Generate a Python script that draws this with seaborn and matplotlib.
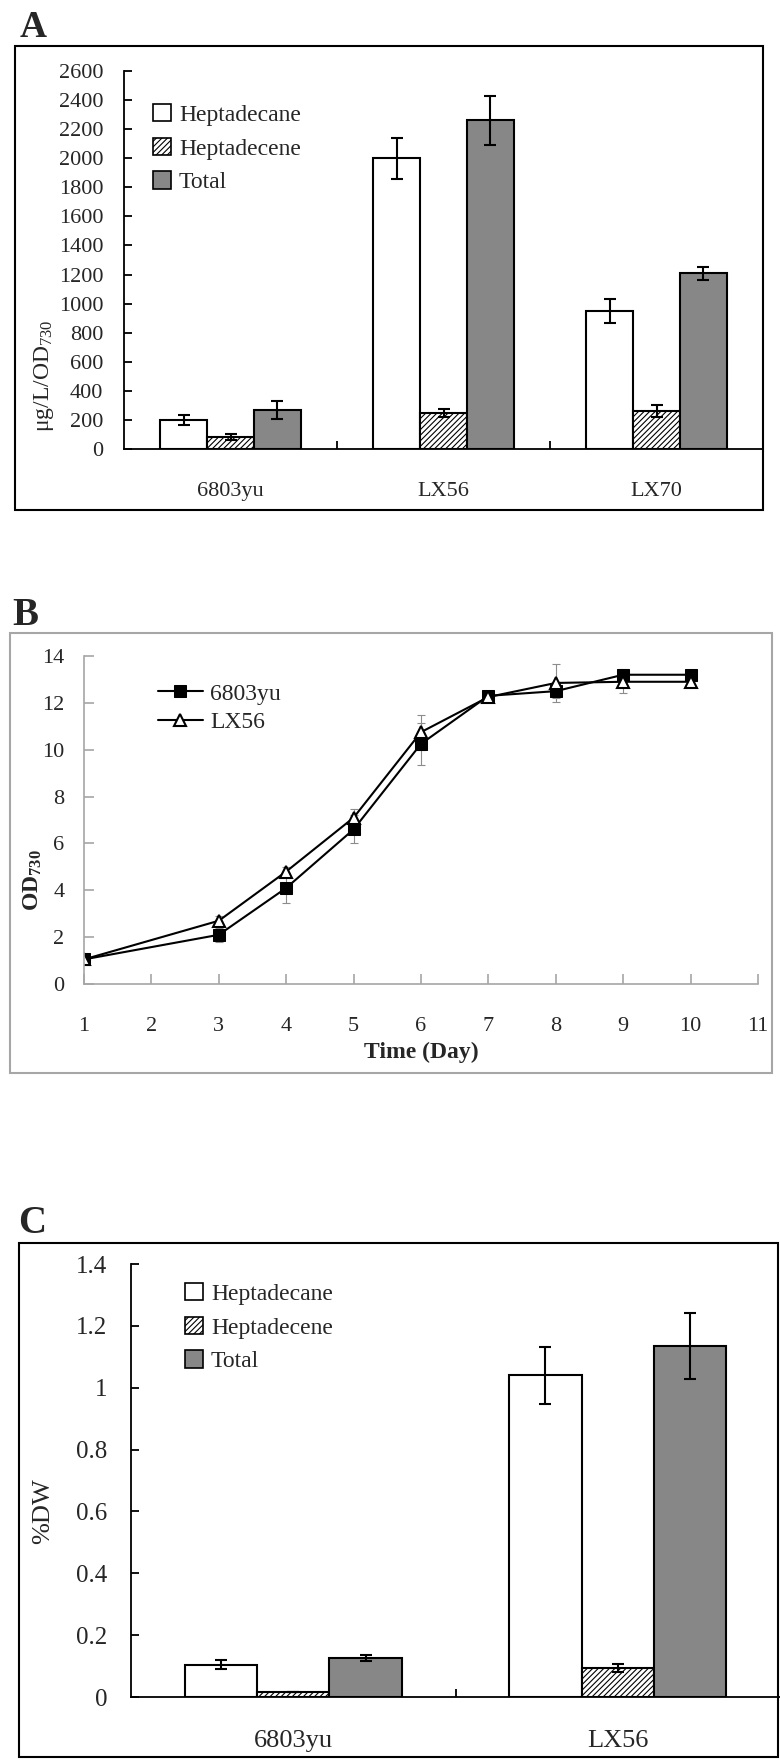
import numpy as np
import pandas as pd
import matplotlib
matplotlib.use("Agg")
import matplotlib.pyplot as plt
import matplotlib.patches as mpatches
import seaborn as sns

# ---- data ----
compounds = ["Heptadecane", "Heptadecene", "Total"]

strains_a = ["6803yu", "LX56", "LX70"]
heptadecane_a = [200, 2000, 950]
heptadecane_a_err = [35, 140, 85]
heptadecene_a = [80, 250, 260]
heptadecene_a_err = [20, 28, 40]
total_a = [270, 2260, 1210]
total_a_err = [62, 168, 45]

days = [1, 3, 4, 5, 6, 7, 8, 9, 10]
od_6803yu = [1.05, 2.1, 4.1, 6.6, 10.25, 12.3, 12.5, 13.2, 13.2]
od_6803yu_err = [0.05, 0.3, 0.65, 0.6, 0.9, 0.2, 0.3, 0.25, 0.2]
od_lx56 = [1.05, 2.7, 4.8, 7.1, 10.75, 12.25, 12.85, 12.9, 12.9]
od_lx56_err = [0.05, 0.2, 0.2, 0.35, 0.75, 0.2, 0.8, 0.5, 0.2]

strains_c = ["6803yu", "LX56"]
heptadecane_c = [0.105, 1.04]
heptadecane_c_err = [0.015, 0.093]
heptadecene_c = [0.015, 0.095]
heptadecene_c_err = [0.0, 0.013]
total_c = [0.125, 1.135]
total_c_err = [0.01, 0.107]

# ---- style ----
sns.set_style("white")
plt.rcParams["font.family"] = ["Liberation Serif", "DejaVu Serif"]
plt.rcParams["mathtext.fontset"] = "custom"
plt.rcParams["mathtext.rm"] = "Liberation Serif"
plt.rcParams["mathtext.bf"] = "Liberation Serif:bold"
plt.rcParams["mathtext.it"] = "Liberation Serif:italic"
plt.rcParams["hatch.linewidth"] = 0.8

W, H = 780, 1760
GRAY = "#878787"
fills = {"Heptadecane": "white", "Heptadecene": "white", "Total": GRAY}
hatches = ["", "//////", ""]

fig = plt.figure(figsize=(W / 100, H / 100), dpi=100)


def box(l, t, r, b):
    return [l / W, 1 - b / H, (r - l) / W, (b - t) / H]


def frame(l, t, r, b, color="black"):
    fig.add_artist(mpatches.Rectangle((l / W, 1 - b / H), (r - l) / W, (b - t) / H,
                                      transform=fig.transFigure, fill=False,
                                      ec=color, lw=1.5))


def bars(ax, strains, vals, errs, width):
    df = pd.DataFrame({
        "strain": strains * 3,
        "compound": np.repeat(compounds, len(strains)),
        "value": vals[0] + vals[1] + vals[2],
    })
    sns.barplot(data=df, x="strain", y="value", hue="compound", order=strains,
                hue_order=compounds, palette=fills, saturation=1, width=width,
                edgecolor="black", linewidth=1.5, errorbar=None, legend=False, ax=ax)
    for cont, h, err in zip(ax.containers, hatches, errs):
        xs, ys = [], []
        for b in cont:
            b.set_hatch(h)
            xs.append(b.get_x() + b.get_width() / 2)
            ys.append(b.get_height())
        ax.errorbar(xs, ys, yerr=err, fmt="none", ecolor="black",
                    elinewidth=1.5, capsize=4, capthick=1.5, zorder=5)
    ax.set_xlim(-0.5, len(strains) - 0.5)
    ax.set_xlabel("")
    ax.set_ylabel("")
    sns.despine(ax=ax)
    for s in ["left", "bottom"]:
        ax.spines[s].set_color("black")
        ax.spines[s].set_linewidth(1.3)
    ax.set_xticks(np.arange(len(strains) - 1) + 0.5, minor=True)
    ax.tick_params(axis="x", which="minor", direction="in", length=6, width=1.3, color="black", bottom=True)
    ax.tick_params(axis="y", direction="in", length=6, width=1.3, color="black", left=True)


def bar_legend(ax, x, y, fs):
    handles = [mpatches.Patch(facecolor=fills[c], edgecolor="black", hatch=h, lw=1.2)
               for c, h in zip(compounds, hatches)]
    ax.legend(handles, compounds, frameon=False, loc="upper left",
              bbox_to_anchor=(x / W, 1 - y / H), bbox_transform=fig.transFigure,
              fontsize=fs, handlelength=0.75, handleheight=0.75, handletextpad=0.35,
              labelspacing=0.5, borderpad=0, borderaxespad=0)


# ---- panel A ----
frame(15, 46, 763, 510)
fig.text(20 / W, 1 - 37 / H, "A", fontsize=27, fontweight="bold", va="baseline")
axA = fig.add_axes(box(124, 71, 763, 449))
bars(axA, strains_a, [heptadecane_a, heptadecene_a, total_a],
     [heptadecane_a_err, heptadecene_a_err, total_a_err], 0.66)
axA.set_ylim(0, 2600)
axA.set_yticks(range(0, 2601, 200))
axA.tick_params(axis="y", labelsize=16, pad=15)
axA.tick_params(axis="x", which="major", length=0, labelsize=16, pad=24)
fig.text(44 / W, 1 - 376 / H, "μg/L/OD$_{730}$", rotation=90, ha="center", va="center", fontsize=17)
bar_legend(axA, 153, 104, 17)

# ---- panel B ----
BGRAY = "#a6a6a6"
frame(10, 633, 772, 1073, color=BGRAY)
fig.text(12 / W, 1 - 625 / H, "B", fontsize=28, fontweight="bold", va="baseline")
axB = fig.add_axes(box(84, 656, 758, 984))
axB.errorbar(days, od_6803yu, yerr=od_6803yu_err, fmt="none", ecolor="#8c8c8c",
             elinewidth=0.8, capsize=3, capthick=0.8, zorder=1)
axB.errorbar(days, od_lx56, yerr=od_lx56_err, fmt="none", ecolor="#8c8c8c",
             elinewidth=0.8, capsize=3, capthick=0.8, zorder=1)
sns.lineplot(x=days, y=od_6803yu, ax=axB, color="black", lw=1.5, marker="s",
             markersize=9, markerfacecolor="black", markeredgecolor="black", label="6803yu")
sns.lineplot(x=days, y=od_lx56, ax=axB, color="black", lw=1.5, marker="^",
             markersize=9, markerfacecolor="white", markeredgecolor="black",
             markeredgewidth=1.5, label="LX56")
axB.set_xlim(1, 11)
axB.set_ylim(0, 14)
axB.set_xticks(range(1, 12))
axB.set_yticks(range(0, 15, 2))
sns.despine(ax=axB)
for s in ["left", "bottom"]:
    axB.spines[s].set_color(BGRAY)
    axB.spines[s].set_linewidth(1.2)
axB.tick_params(axis="both", direction="in", length=7, width=1.2, color=BGRAY,
                labelsize=16, left=True, bottom=True)
axB.tick_params(axis="x", pad=24)
axB.tick_params(axis="y", pad=14)
axB.set_xlabel("Time (Day)", fontsize=17, fontweight="bold", labelpad=4)
axB.set_ylabel("")
fig.text(33 / W, 1 - 880 / H, r"$\mathbf{OD_{730}}$", rotation=90, ha="center", va="center", fontsize=17)
axB.legend(frameon=False, loc="upper left", bbox_to_anchor=(158 / W, 1 - 683 / H),
           bbox_transform=fig.transFigure, fontsize=17, handlelength=1.9,
           handletextpad=0.3, labelspacing=0.3, borderpad=0, borderaxespad=0)

# ---- panel C ----
frame(19, 1243, 778, 1757)
fig.text(18 / W, 1 - 1233 / H, "C", fontsize=28, fontweight="bold", va="baseline")
axC = fig.add_axes(box(131, 1264, 780, 1697))
bars(axC, strains_c, [heptadecane_c, heptadecene_c, total_c],
     [heptadecane_c_err, heptadecene_c_err, total_c_err], 0.67)
axC.set_ylim(0, 1.4)
axC.set_yticks([0, 0.2, 0.4, 0.6, 0.8, 1, 1.2, 1.4])
axC.set_yticklabels(["0", "0.2", "0.4", "0.6", "0.8", "1", "1.2", "1.4"])
axC.tick_params(axis="y", labelsize=18, pad=17)
axC.tick_params(axis="x", which="major", length=0, labelsize=19, pad=24)
fig.text(43 / W, 1 - 1511 / H, "%DW", rotation=90, ha="center", va="center", fontsize=19)
bar_legend(axC, 185, 1283, 17)

fig.savefig("out.png", dpi=100)
